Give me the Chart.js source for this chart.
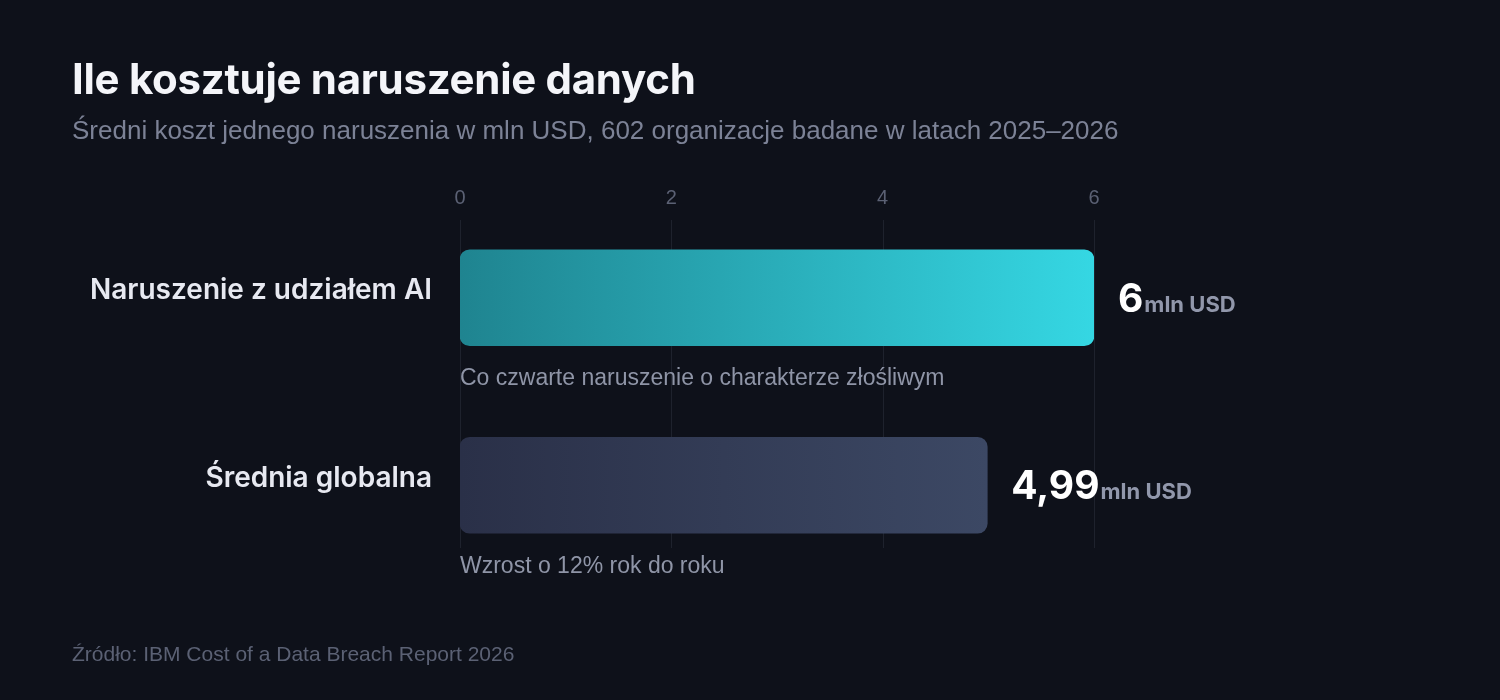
<!DOCTYPE html>
<html lang="pl">
<head>
<meta charset="utf-8">
<title>Ile kosztuje naruszenie danych</title>
<script src="https://cdn.jsdelivr.net/npm/chart.js@4.4.1/dist/chart.umd.min.js"></script>
<style>
html, body { margin: 0; padding: 0; background: #0e111a; }
#wrap { position: relative; width: 1500px; height: 700px; overflow: hidden; background: #0e111a; }
#chart { position: absolute; left: 0; top: 0; }
.title { position: absolute; left: 72px; top: 53px; font: 700 42px Inter, sans-serif; color: #f4f5f9; letter-spacing: -0.3px; white-space: nowrap; }
.subtitle { position: absolute; left: 72px; top: 115px; font: 26px "Liberation Sans", Arial, sans-serif; color: #7c8296; white-space: nowrap; }
.source { position: absolute; left: 72px; top: 642px; font: 21px "Liberation Sans", Arial, sans-serif; color: #5b6174; white-space: nowrap; }
</style>
</head>
<body>
<div id="wrap">
  <canvas id="chart" width="1500" height="700"></canvas>
  <div class="title">Ile kosztuje naruszenie danych</div>
  <div class="subtitle">Średni koszt jednego naruszenia w mln USD, 602 organizacje badane w latach 2025–2026</div>
  <div class="source">Źródło: IBM Cost of a Data Breach Report 2026</div>
</div>
<script>

// data
const categories = ["Naruszenie z udziałem AI", "Średnia globalna"]

const costs = [6, 4.99]

const notes = ["Co czwarte naruszenie o charakterze złośliwym", "Wzrost o 12% rok do roku"]

const xTicks = [0, 2, 4, 6]

const unit = "mln USD"


// bar colours (left -> right)
const colorsStart = ["#1f8490", "#2a3048"]

const colorsEnd = ["#35d7e3", "#3c4864"]


function barFill(c){

const chart = c.chart
const area = chart.chartArea

if(!area || !chart.scales.x){
return colorsEnd[c.dataIndex]
}

const x1 = chart.scales.x.getPixelForValue(costs[c.dataIndex])
const g = chart.ctx.createLinearGradient(area.left, 0, x1, 0)

g.addColorStop(0, colorsStart[c.dataIndex])
g.addColorStop(1, colorsEnd[c.dataIndex])

return g

}


// vertical grid lines, shorter than the rows
const gridLines = {

id: "gridLines",

beforeDatasetsDraw(chart){

const ctx = chart.ctx
const x = chart.scales.x

ctx.save()
ctx.strokeStyle = "#1e222d"
ctx.lineWidth = 1

xTicks.forEach(v => {
const px = Math.round(x.getPixelForValue(v)) + 0.5
ctx.beginPath()
ctx.moveTo(px, 220)
ctx.lineTo(px, 548)
ctx.stroke()
})

ctx.restore()

}

}


// value labels + notes under the bars
const barText = {

id: "barText",

afterDatasetsDraw(chart){

const ctx = chart.ctx
const x = chart.scales.x
const meta = chart.getDatasetMeta(0)

ctx.save()

meta.data.forEach((bar, i) => {

const txt = String(costs[i]).replace(".", ",")
const x0 = bar.x + 24
const base = bar.y + 14

ctx.textAlign = "left"
ctx.textBaseline = "alphabetic"

ctx.font = "700 39px Inter, sans-serif"
ctx.fillStyle = "#ffffff"
ctx.fillText(txt, x0, base)

const w = ctx.measureText(txt).width

ctx.font = "700 22px Inter, sans-serif"
ctx.fillStyle = "#9197ab"
ctx.fillText(unit, x0 + w + 1, base)

ctx.font = "23px 'Liberation Sans', Arial, sans-serif"
ctx.fillStyle = "#8f95a7"
ctx.textBaseline = "middle"
ctx.fillText(notes[i], x.getPixelForValue(0), bar.y + bar.height / 2 + 33)

})

ctx.restore()

}

}


// create chart
const ctx = document.getElementById("chart").getContext("2d")

new Chart(ctx, {

type: "bar",

data: {

labels: categories,

datasets: [{

data: costs,

backgroundColor: barFill,

barThickness: 96,

borderRadius: 10,

borderSkipped: false

}]

},

options: {

indexAxis: "y",

responsive: false,

animation: false,

layout: {
padding: { top: 170, right: 406, bottom: 121, left: 0 }
},

plugins: {
legend: { display: false },
tooltip: { enabled: false }
},

scales: {

x: {

position: "top",

min: 0,

max: 6,

afterBuildTicks(scale){
scale.ticks = xTicks.map(v => ({ value: v }))
},

afterFit(scale){
scale.height = 34
},

ticks: {
color: "#5b6174",
font: { family: "'Liberation Sans', Arial, sans-serif", size: 20 },
padding: -14
},

grid: { display: false },

border: { display: false }

},

y: {

afterFit(scale){
scale.width = 460
},

ticks: {
color: "#e7e9f1",
font: { family: "Inter, sans-serif", size: 28, weight: "600" },
padding: 20,
labelOffset: -7
},

grid: { display: false },

border: { display: false }

}

}

},

plugins: [gridLines, barText]

})

</script>
</body>
</html>
